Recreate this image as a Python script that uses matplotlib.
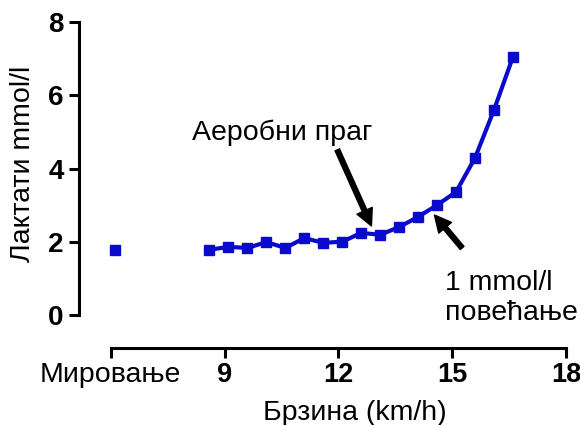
import matplotlib
matplotlib.use('Agg')
import matplotlib.pyplot as plt

plt.rcParams['font.family'] = ['Liberation Sans', 'DejaVu Sans']

# data
rest_x = [6.1]
rest_y = [1.78]
speed = [8.6, 9.1, 9.6, 10.1, 10.6, 11.1, 11.6, 12.1, 12.6, 13.1,
         13.6, 14.1, 14.6, 15.1, 15.6, 16.1, 16.6]
lactate = [1.78, 1.86, 1.83, 1.99, 1.83, 2.10, 1.97, 2.00, 2.24, 2.19,
           2.40, 2.68, 3.00, 3.36, 4.29, 5.60, 7.05]
xticks = [6, 9, 12, 15, 18]
xticklabels = ['Мировање', '9', '12', '15', '18']
yticks = [0, 2, 4, 6, 8]

blue = '#0a0acc'

fig = plt.figure(figsize=(5.8, 4.25), dpi=100)
ax = fig.add_axes([0.191, 0.259, 0.785, 0.689])

ax.plot(speed, lactate, color=blue, lw=3, marker='s', ms=6.5, clip_on=False)
ax.plot(rest_x, rest_y, color=blue, ls='none', marker='s', ms=6.5, clip_on=False)

ax.set_xlim(6, 18)
ax.set_ylim(0, 8)

for s in ['top', 'right']:
    ax.spines[s].set_visible(False)
ax.spines['left'].set_position(('outward', 23))
ax.spines['bottom'].set_position(('outward', 24))
for s in ['left', 'bottom']:
    ax.spines[s].set_linewidth(2.2)

ax.set_yticks(yticks)
ax.set_yticklabels([str(v) for v in yticks], fontsize=20, fontweight='bold')
ax.set_xticks(xticks)
labs = ax.set_xticklabels(xticklabels, fontsize=20.5)
for t in labs[1:]:
    t.set_fontweight('bold')
    t.set_fontsize(19.5)
ax.tick_params(axis='both', direction='out', length=7, width=2.2)
ax.tick_params(axis='y', pad=4)
ax.tick_params(axis='x', pad=3)

ax.set_xlabel('Брзина (km/h)', fontsize=20.5)
ax.xaxis.set_label_coords(0.536, -0.292)
ax.set_ylabel('Лактати mmol/l', fontsize=20.5)
ax.yaxis.set_label_coords(-0.165, 0.515)

arrow = dict(facecolor='black', edgecolor='black', width=3.5, headwidth=12, headlength=12, shrink=0)
ax.annotate('', xy=(12.87, 2.43), xytext=(11.97, 4.51), arrowprops=arrow)
ax.annotate('', xy=(14.53, 2.73), xytext=(15.26, 1.83), arrowprops=arrow)

ax.text(8.13, 4.97, 'Аеробни праг', fontsize=20.5, va='center', ha='left')
ax.text(14.8, 0.87, '1 mmol/l', fontsize=20.5, va='center', ha='left')
ax.text(14.8, 0.05, 'повећање', fontsize=20.5, va='center', ha='left')

fig.savefig('out.png', dpi=100)
